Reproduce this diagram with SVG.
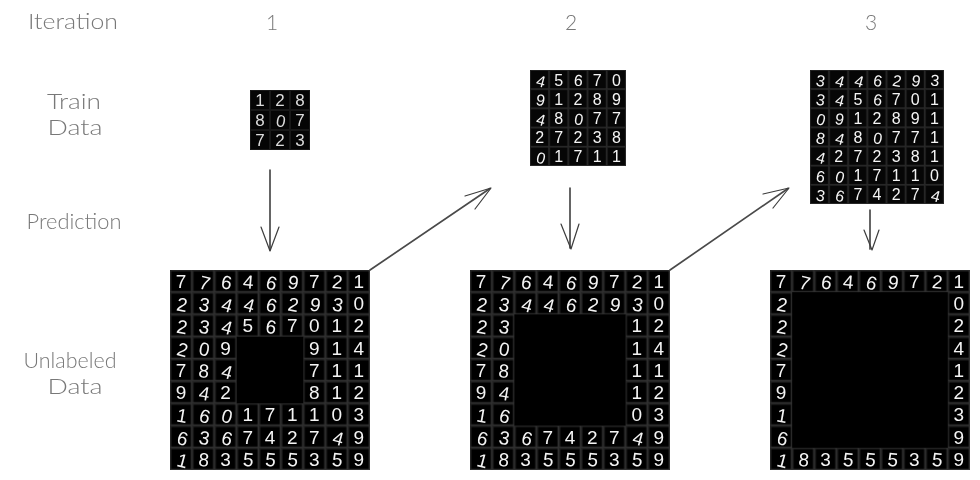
<svg xmlns="http://www.w3.org/2000/svg" width="980" height="480" viewBox="0 0 980 480">
<style>
.l{font-family:"Lato","Open Sans","Liberation Sans",sans-serif;font-weight:300;font-size:21px;fill:#777;text-anchor:middle;opacity:.99}
.d{font-family:"Liberation Sans","DejaVu Sans",sans-serif;fill:#f4f4f4;text-anchor:middle;filter:url(#soft)}
.g9{font-size:19px}.g7{font-size:16px}.g3{font-size:17px;fill:#dcdcdc}
.a{fill:none;stroke:#3c3c3c;stroke-width:1.2;stroke-linecap:round;stroke-linejoin:round}
.s{stroke-width:1.7;stroke:#4a4a4a}
</style>
<defs>
<filter id="soft" x="-5%" y="-5%" width="110%" height="110%"><feGaussianBlur stdDeviation="0.3"/></filter>
<pattern id="c9" width="22.222" height="22.222" patternUnits="userSpaceOnUse"><rect width="22.222" height="22.222" fill="#000"/><path d="M0 .7H22.3M.7 0V22.3" stroke="#242424" stroke-width="1.4"/><path d="M0 21.6H22.3M21.6 0V22.3" stroke="#303030" stroke-width="1.4"/></pattern>
<pattern id="c5" width="19.2" height="19.2" patternUnits="userSpaceOnUse"><rect width="19.2" height="19.2" fill="#060606"/><path d="M0 .5H19.2M.5 0V19.2" stroke="#202020"/><path d="M0 18.7H19.2M18.7 0V19.2" stroke="#282828"/></pattern>
<pattern id="c7" width="19.143" height="19.143" patternUnits="userSpaceOnUse"><rect width="19.143" height="19.143" fill="#060606"/><path d="M0 .5H19.2M.5 0V19.2" stroke="#202020"/><path d="M0 18.6H19.2M18.6 0V19.2" stroke="#282828"/></pattern>
<pattern id="c3" width="20" height="20" patternUnits="userSpaceOnUse"><rect width="20" height="20" fill="#050505"/><path d="M0 .5H20M.5 0V20M0 19.5H20M19.5 0V20" stroke="#181818"/></pattern>
</defs>
<rect width="980" height="480" fill="#fff"/>
<g id="label-iteration"><text class="l" x="73" y="29" textLength="90" lengthAdjust="spacingAndGlyphs">Iteration</text></g>
<g id="label-1"><text class="l" x="272" y="30">1</text></g>
<g id="label-2"><text class="l" x="571" y="30">2</text></g>
<g id="label-3"><text class="l" x="871" y="30">3</text></g>
<g id="label-train"><text class="l" x="74" y="109" textLength="54" lengthAdjust="spacingAndGlyphs">Train</text><text class="l" x="75" y="135" textLength="55" lengthAdjust="spacingAndGlyphs">Data</text></g>
<g id="label-prediction"><text class="l" x="74" y="229" textLength="95" lengthAdjust="spacingAndGlyphs">Prediction</text></g>
<g id="label-unlabeled"><text class="l" x="70" y="368" textLength="93" lengthAdjust="spacingAndGlyphs">Unlabeled</text><text class="l" x="75" y="394" textLength="55" lengthAdjust="spacingAndGlyphs">Data</text></g>

<g id="train-1" transform="translate(250,90)"><rect width="60" height="60" fill="url(#c3)"/>
<text class="d g3" x="10 30 50" y="16">128</text>
<text class="d g3" x="10 30 50" y="36" rotate="0 10 0">807</text>
<text class="d g3" x="10 30 50" y="56">723</text></g>

<g id="train-2" transform="translate(530,70)"><rect width="96" height="96" fill="url(#c5)"/>
<text class="d g7" x="9.600 28.800 48 67.200 86.400" y="15.500" rotate="15 0 5 0 0">45670</text>
<text class="d g7" x="9.600 28.800 48 67.200 86.400" y="34.700" rotate="10 0 0 0 0">91289</text>
<text class="d g7" x="9.600 28.800 48 67.200 86.400" y="53.900" rotate="15 0 10 0 0">48077</text>
<text class="d g7" x="9.600 28.800 48 67.200 86.400" y="73.100">27238</text>
<text class="d g7" x="9.600 28.800 48 67.200 86.400" y="92.300" rotate="15 0 0 0 0">01711</text></g>

<g id="train-3" transform="translate(810,70)"><rect width="134" height="134" fill="url(#c7)"/>
<text class="d g7" x="9.600 28.700 47.900 67 86.100 105.300 124.400" y="15.500" rotate="10 15 15 10 10 10 5">3446293</text>
<text class="d g7" x="9.600 28.700 47.900 67 86.100 105.300 124.400" y="34.600" rotate="10 15 0 10 0 0 0">3456701</text>
<text class="d g7" x="9.600 28.700 47.900 67 86.100 105.300 124.400" y="53.800" rotate="15 10 0 0 0 0 0">0912891</text>
<text class="d g7" x="9.600 28.700 47.900 67 86.100 105.300 124.400" y="72.900" rotate="10 15 0 10 0 0 0">8480771</text>
<text class="d g7" x="9.600 28.700 47.900 67 86.100 105.300 124.400" y="92.100" rotate="15 0 0 0 0 0 0">4272381</text>
<text class="d g7" x="9.600 28.700 47.900 67 86.100 105.300 124.400" y="111.200" rotate="10 15 0 0 0 0 0">6017110</text>
<text class="d g7" x="9.600 28.700 47.900 67 86.100 105.300 124.400" y="130.300" rotate="10 15 0 0 0 0 15">3674274</text></g>

<g id="unlabeled-1" transform="translate(170,270)"><rect width="200" height="200" fill="url(#c9)"/><rect x="66.700" y="66.700" width="66.600" height="66.600" fill="#000"/>
<text class="d g9" x="11.100 33.300 55.600 77.800 100 122.200 144.400 166.700 188.900" y="18" rotate="0 15 10 5 15 10 0 5 0">776469721</text>
<text class="d g9" x="11.100 33.300 55.600 77.800 100 122.200 144.400 166.700 188.900" y="40.200" rotate="10 10 15 15 15 10 10 10 0">234462930</text>
<text class="d g9" x="11.100 33.300 55.600 77.800 100 122.200 144.400 166.700 188.900" y="62.400" rotate="10 10 15 0 10 0 0 0 0">234567012</text>
<text class="d g9" x="11.100 33.300 55.600 144.400 166.700 188.900" y="84.700" rotate="15 10 0 0 0 0">209914</text>
<text class="d g9" x="11.100 33.300 55.600 144.400 166.700 188.900" y="106.900" rotate="0 5 15 0 0 0">784711</text>
<text class="d g9" x="11.100 33.300 55.600 144.400 166.700 188.900" y="129.100" rotate="0 10 0 0 0 0">942812</text>
<text class="d g9" x="11.100 33.300 55.600 77.800 100 122.200 144.400 166.700 188.900" y="151.300" rotate="10 15 15 0 0 0 0 0 0">160171103</text>
<text class="d g9" x="11.100 33.300 55.600 77.800 100 122.200 144.400 166.700 188.900" y="173.600" rotate="15 10 15 0 0 0 0 15 0">636742749</text>
<text class="d g9" x="11.100 33.300 55.600 77.800 100 122.200 144.400 166.700 188.900" y="195.800" rotate="15 5 0 5 5 5 0 5 0">183555359</text></g>

<g id="unlabeled-2" transform="translate(470,270)"><rect width="200" height="200" fill="url(#c9)"/><rect x="44.400" y="44.400" width="111.200" height="111.200" fill="#000"/>
<text class="d g9" x="11.100 33.300 55.600 77.800 100 122.200 144.400 166.700 188.900" y="18" rotate="0 15 10 5 15 10 0 5 0">776469721</text>
<text class="d g9" x="11.100 33.300 55.600 77.800 100 122.200 144.400 166.700 188.900" y="40.200" rotate="10 10 15 15 15 10 10 10 0">234462930</text>
<text class="d g9" x="11.100 33.300 166.700 188.900" y="62.400" rotate="10 10 0 0">2312</text>
<text class="d g9" x="11.100 33.300 166.700 188.900" y="84.700" rotate="15 10 0 0">2014</text>
<text class="d g9" x="11.100 33.300 166.700 188.900" y="106.900" rotate="0 5 0 0">7811</text>
<text class="d g9" x="11.100 33.300 166.700 188.900" y="129.100" rotate="0 10 0 0">9412</text>
<text class="d g9" x="11.100 33.300 166.700 188.900" y="151.300" rotate="10 15 0 0">1603</text>
<text class="d g9" x="11.100 33.300 55.600 77.800 100 122.200 144.400 166.700 188.900" y="173.600" rotate="15 10 15 0 0 0 0 15 0">636742749</text>
<text class="d g9" x="11.100 33.300 55.600 77.800 100 122.200 144.400 166.700 188.900" y="195.800" rotate="15 5 0 5 5 5 0 5 0">183555359</text></g>

<g id="unlabeled-3" transform="translate(770,270)"><rect width="200" height="200" fill="url(#c9)"/><rect x="22.200" y="22.200" width="155.600" height="155.600" fill="#000"/>
<text class="d g9" x="11.100 33.300 55.600 77.800 100 122.200 144.400 166.700 188.900" y="18" rotate="0 15 10 5 15 10 0 5 0">776469721</text>
<text class="d g9" x="11.100 188.900" y="40.200" rotate="10 0">20</text>
<text class="d g9" x="11.100 188.900" y="62.400" rotate="10 0">22</text>
<text class="d g9" x="11.100 188.900" y="84.700" rotate="15 0">24</text>
<text class="d g9" x="11.100 188.900" y="106.900">71</text>
<text class="d g9" x="11.100 188.900" y="129.100">92</text>
<text class="d g9" x="11.100 188.900" y="151.300" rotate="10 0">13</text>
<text class="d g9" x="11.100 188.900" y="173.600" rotate="15 0">69</text>
<text class="d g9" x="11.100 33.300 55.600 77.800 100 122.200 144.400 166.700 188.900" y="195.800" rotate="15 5 0 5 5 5 0 5 0">183555359</text></g>

<g id="connectors">
<path class="a s" d="M270 170V250"/><path class="a" d="M261 227L270 251L279 227"/>
<path class="a s" d="M370 270L490 188.500"/><path class="a" d="M465 196L491 188L475 209"/>
<path class="a s" d="M570 188V248"/><path class="a" d="M561 224L571 249L579 224"/>
<path class="a s" d="M670 270L788 188.500"/><path class="a" d="M763 194L789 188L773 208"/>
<path class="a s" d="M870 210V249"/><path class="a" d="M864 230L872 250L879 230"/>
</g>
</svg>
